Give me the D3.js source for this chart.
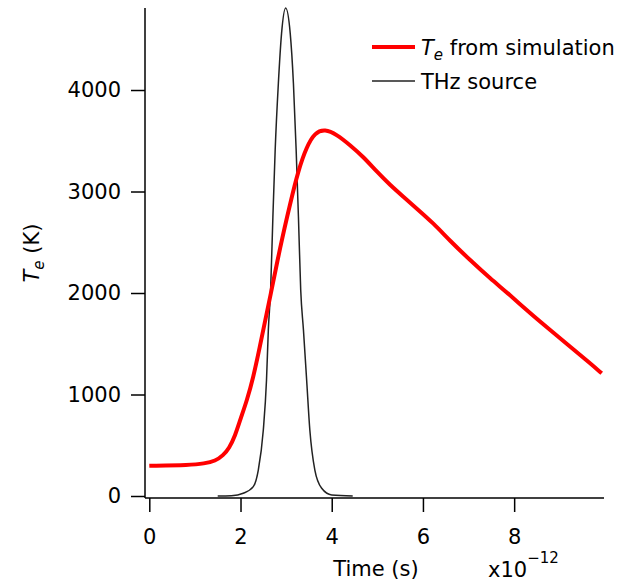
<!DOCTYPE html>
<html>
<head>
<meta charset="utf-8">
<script src="https://cdn.jsdelivr.net/npm/d3@7"></script>
<style>
  body { margin: 0; background: #fff; }
  text { font-family: "DejaVu Sans", sans-serif; fill: #000; }
</style>
</head>
<body>
<div id="main-frame"></div>
<script>
// electron temperature from simulation (time in 1e-12 s, K)
var teTime = [0, 0.9, 1.2, 1.45, 1.62, 1.75, 1.88, 2.0, 2.14, 2.28, 2.4, 2.5, 2.65, 2.87, 3.09, 3.27, 3.45, 3.63, 3.85, 4.11, 4.4, 4.69, 4.99, 5.28, 5.57, 5.86, 6.23, 6.59, 7.03, 7.47, 7.91, 8.35, 8.79, 9.23, 9.67, 9.92];
var teVal = [298, 305, 320, 345, 400, 470, 590, 760, 940, 1170, 1420, 1640, 1960, 2456, 2884, 3212, 3441, 3580, 3615, 3562, 3458, 3343, 3195, 3064, 2949, 2834, 2687, 2516, 2325, 2145, 1980, 1800, 1635, 1471, 1307, 1209];

// THz source pulse
var thzTime = [1.5, 1.8, 2.06, 2.28, 2.39, 2.5, 2.57, 2.61, 2.66, 2.71, 2.76, 2.83, 2.9, 2.99, 3.09, 3.16, 3.22, 3.27, 3.32, 3.38, 3.45, 3.52, 3.63, 3.78, 4.0, 4.46];
var thzVal = [0, 3, 27, 92, 256, 650, 1143, 1635, 2030, 2752, 3409, 4066, 4558, 4808, 4558, 4066, 3409, 2752, 2030, 1635, 1143, 650, 256, 76, 10, 0];

var xTicks = [0, 2, 4, 6, 8];
var yTicks = [0, 1000, 2000, 3000, 4000];

var width = 637, height = 585;
var axisX = 145, axisY = 498;

var svg = d3.select("#main-frame")
  .append("svg")
  .attr("width", width)
  .attr("height", height);

var x = d3.scaleLinear().domain([0, 9.97]).range([149.3, 604]);
var y = d3.scaleLinear().domain([0, 4808]).range([496, 8]);

// y axis
var yAxis = svg.append("g")
  .attr("transform", "translate(" + axisX + ",0)")
  .call(d3.axisLeft(y).tickValues(yTicks).tickSize(14).tickPadding(10).tickFormat(d3.format("d")));
yAxis.select(".domain").remove();
yAxis.selectAll(".tick line").attr("stroke", "#000").attr("stroke-width", 1.5);
yAxis.selectAll(".tick text").style("font-size", "21px").attr("fill", "#000");

svg.append("line")
  .attr("x1", axisX).attr("x2", axisX)
  .attr("y1", y.range()[1]).attr("y2", axisY)
  .attr("stroke", "#000").attr("stroke-width", 1.5);

// x axis
var xAxis = svg.append("g")
  .attr("transform", "translate(0," + axisY + ")")
  .call(d3.axisBottom(x).tickValues(xTicks).tickSize(14).tickPadding(17).tickFormat(d3.format("d")));
xAxis.select(".domain").remove();
xAxis.selectAll(".tick line").attr("stroke", "#000").attr("stroke-width", 1.5);
xAxis.selectAll(".tick text").style("font-size", "21px").attr("fill", "#000");

svg.append("line")
  .attr("x1", axisX).attr("x2", x.range()[1])
  .attr("y1", axisY).attr("y2", axisY)
  .attr("stroke", "#000").attr("stroke-width", 1.5);

// curves
function lineWith(curve) {
  return d3.line()
    .x(function(d) { return x(d[0]); })
    .y(function(d) { return y(d[1]); })
    .curve(curve);
}

svg.append("path")
  .datum(d3.zip(thzTime, thzVal))
  .attr("d", lineWith(d3.curveMonotoneX))
  .attr("fill", "none")
  .attr("stroke", "#222")
  .attr("stroke-width", 1.5);

svg.append("path")
  .datum(d3.zip(teTime, teVal))
  .attr("d", lineWith(d3.curveBasis))
  .attr("fill", "none")
  .attr("stroke", "#ff0000")
  .attr("stroke-width", 4);

// axis titles
svg.append("text")
  .attr("x", 376).attr("y", 576)
  .attr("text-anchor", "middle")
  .style("font-size", "21px")
  .text("Time (s)");

var mult = svg.append("text")
  .attr("x", 488).attr("y", 577)
  .style("font-size", "21px");
mult.append("tspan").text("x10");
mult.append("tspan").attr("dy", -14).style("font-size", "15px").text("\u221212");

var yTitle = svg.append("text")
  .attr("transform", "translate(39,253) rotate(-90)")
  .attr("text-anchor", "middle")
  .style("font-size", "21px");
yTitle.append("tspan").style("font-style", "italic").text("T");
yTitle.append("tspan").attr("dy", 5).style("font-style", "italic").style("font-size", "15px").text("e");
yTitle.append("tspan").attr("dy", -5).text(" (K)");

// legend
svg.append("line")
  .attr("x1", 372).attr("x2", 415).attr("y1", 47).attr("y2", 47)
  .attr("stroke", "#ff0000").attr("stroke-width", 4);
svg.append("line")
  .attr("x1", 372).attr("x2", 415).attr("y1", 81).attr("y2", 81)
  .attr("stroke", "#222").attr("stroke-width", 1.5);

var leg1 = svg.append("text")
  .attr("x", 421).attr("y", 55)
  .style("font-size", "21px");
leg1.append("tspan").style("font-style", "italic").text("T");
leg1.append("tspan").attr("dy", 5).style("font-style", "italic").style("font-size", "15px").text("e");
leg1.append("tspan").attr("dy", -5).text(" from simulation");

svg.append("text")
  .attr("x", 421).attr("y", 89)
  .style("font-size", "21px")
  .text("THz source");
</script>
</body>
</html>
